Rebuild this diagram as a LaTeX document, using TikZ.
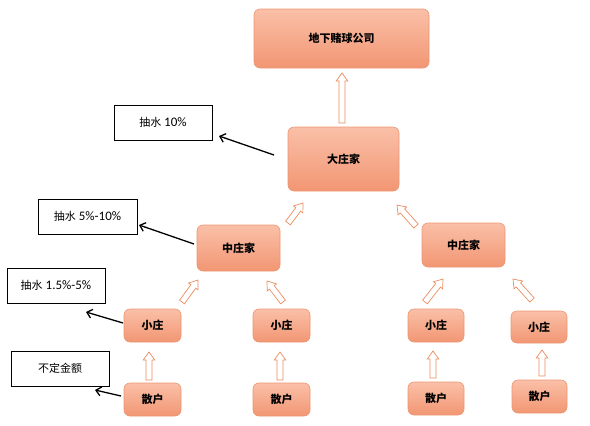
\documentclass[tikz,border=0pt]{standalone}
\usepackage{fontspec}
\setmainfont{Carlito}
\newfontfamily\cjk{Noto Sans CJK SC}
\usetikzlibrary{calc,arrows.meta}
\definecolor{boxtop}{RGB}{250,192,168}
\definecolor{boxbot}{RGB}{242,150,115}
\definecolor{boxline}{RGB}{236,150,115}
\definecolor{arrc}{RGB}{236,140,95}
\newcommand\cj[1]{{\cjk\fontsize{11}{13}\selectfont #1}}
\tikzset{
  orgbox/.style={draw=boxline, line width=0.6pt, rounded corners=6pt, top color=boxtop, bottom color=boxbot,
    font=\cjk\bfseries\fontsize{11}{13}\selectfont, text=black, inner sep=0pt},
  labelbox/.style={draw=black, line width=0.7pt, fill=white, font=\fontsize{13}{15}\selectfont, inner sep=0pt},
  hollow/.style={draw=arrc, fill=white, line width=0.7pt, line join=miter},
  blackarr/.style={draw=black, line width=1.3pt, -{Straight Barb[length=5pt,width=9pt,line width=1.3pt]}}
}
\newcommand\hollowarr[2]{%
  \coordinate (hb) at ($(#2)!8pt!(#1)$);
  \draw[hollow] ($(#1)!3pt!90:(#2)$) -- ($(hb)!3pt!-90:(#1)$) -- ($(hb)!5.8pt!-90:(#1)$) -- (#2)
    -- ($(hb)!5.8pt!90:(#1)$) -- ($(hb)!3pt!90:(#1)$) -- ($(#1)!3pt!-90:(#2)$) -- cycle;
}
\newcommand\bx[5]{% name, x1, y1, x2, y2
  \node[orgbox, minimum width={#4pt-#2pt}, minimum height={#5pt-#3pt}] (#1) at ({(#2+#4)/2}, {(#3+#5)/2})}
\begin{document}
\begin{tikzpicture}[x=1pt,y=-1pt]
\useasboundingbox (0,0) rectangle (590,426);
% org boxes
\bx{top}{254}{9}{429}{68} {地下赌球公司};
\bx{big}{288}{127}{399}{191} {大庄家};
\bx{midL}{197}{225}{280}{271} {中庄家};
\bx{midR}{422}{223}{505}{267} {中庄家};
\bx{s1}{124}{309}{181}{342} {小庄};
\bx{s2}{253}{309}{310}{342} {小庄};
\bx{s3}{408}{309}{464}{342} {小庄};
\bx{s4}{511}{311}{567}{343} {小庄};
\bx{p1}{124}{383}{181}{416} {散户};
\bx{p2}{253}{383}{310}{416} {散户};
\bx{p3}{408}{382}{464}{415} {散户};
\bx{p4}{512}{380}{567}{413} {散户};
% label boxes
\node[labelbox, minimum width=98pt, minimum height=35pt] (l1) at (163,122.5) {\cj{抽水} 10\%};
\node[labelbox, minimum width=99pt, minimum height=35pt] (l2) at (87.5,216.5) {\cj{抽水} 5\%-10\%};
\node[labelbox, minimum width=98pt, minimum height=35pt] (l3) at (56,285.5) {\cj{抽水} 1.5\%-5\%};
\node[labelbox, minimum width=98pt, minimum height=35pt] (l4) at (60,368.5) {\cj{不定金额}};
% hollow arrow end points
\coordinate (a0t) at (342,123); \coordinate (a0h) at (342,73);
\coordinate (a1t) at (288,223); \coordinate (a1h) at (303,203);
\coordinate (a2t) at (416,226); \coordinate (a2h) at (397,205);
\coordinate (a3t) at (182,302); \coordinate (a3h) at (198,280);
\coordinate (a4t) at (283,302); \coordinate (a4h) at (267,281);
\coordinate (a5t) at (425,302); \coordinate (a5h) at (443,279);
\coordinate (a6t) at (532,300); \coordinate (a6h) at (513,279);
\coordinate (a7t) at (149,380); \coordinate (a7h) at (149,352);
\coordinate (a8t) at (280,380); \coordinate (a8h) at (280,352);
\coordinate (a9t) at (433,378); \coordinate (a9h) at (433,351);
\coordinate (a10t) at (542,376); \coordinate (a10h) at (542,350);
\hollowarr{a0t}{a0h}
\hollowarr{a1t}{a1h}
\hollowarr{a2t}{a2h}
\hollowarr{a3t}{a3h}
\hollowarr{a4t}{a4h}
\hollowarr{a5t}{a5h}
\hollowarr{a6t}{a6h}
\hollowarr{a7t}{a7h}
\hollowarr{a8t}{a8h}
\hollowarr{a9t}{a9h}
\hollowarr{a10t}{a10h}
% black arrows
\coordinate (b1t) at (274,155); \coordinate (b1h) at (219,136);
\coordinate (b2t) at (194,244); \coordinate (b2h) at (139,225);
\coordinate (b3t) at (123,323); \coordinate (b3h) at (86,312);
\coordinate (b4t) at (121,396); \coordinate (b4h) at (95,390);
\draw[blackarr] (b1t) -- (b1h);
\draw[blackarr] (b2t) -- (b2h);
\draw[blackarr] (b3t) -- (b3h);
\draw[blackarr] (b4t) -- (b4h);
\end{tikzpicture}
\end{document}
